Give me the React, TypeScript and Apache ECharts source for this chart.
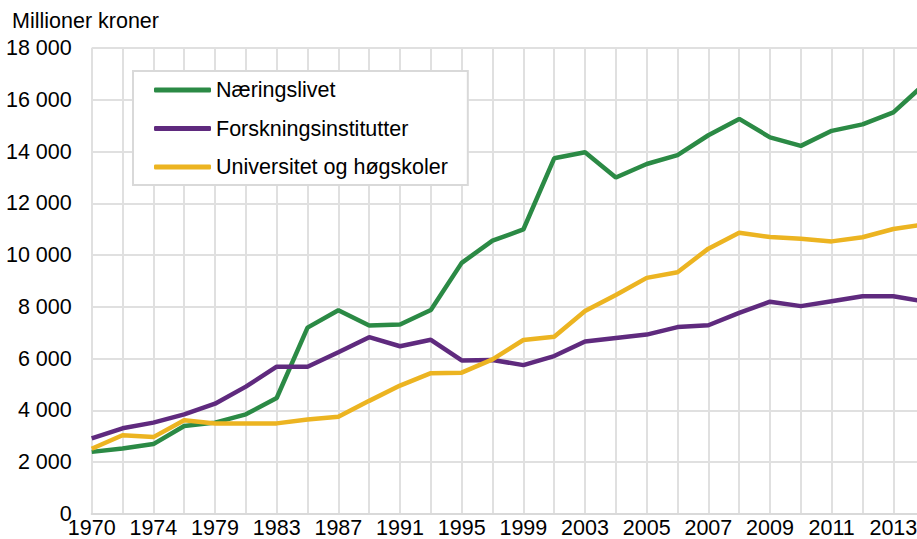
import React, { useEffect, useRef } from "react";
import * as echarts from "echarts";

const categories = [
  "1970", "1972", "1974", "1977", "1979", "1981", "1983", "1985", "1987", "1989",
  "1991", "1993", "1995", "1997", "1999", "2001", "2003", "2004", "2005", "2006",
  "2007", "2008", "2009", "2010", "2011", "2012", "2013", "2014",
];

const naeringslivet = [
  2400, 2530, 2700, 3400, 3530, 3850, 4480, 7200, 7870, 7280,
  7320, 7880, 9700, 10560, 10990, 13740, 13970, 13000, 13520, 13860,
  14630, 15260, 14550, 14220, 14800, 15050, 15510, 16600,
];

const forskningsinstitutter = [
  2920, 3310, 3530, 3850, 4260, 4920, 5690, 5690, 6250, 6830,
  6480, 6730, 5930, 5950, 5750, 6100, 6660, 6800, 6930, 7220,
  7290, 7770, 8200, 8030, 8220, 8410, 8410, 8210,
];

const universitet = [
  2520, 3040, 2970, 3620, 3500, 3500, 3500, 3650, 3760, 4370,
  4960, 5440, 5460, 5970, 6720, 6850, 7840, 8460, 9120, 9340,
  10250, 10860, 10700, 10630, 10530, 10690, 11010, 11180,
];

const seriesNames = ["Næringslivet", "Forskningsinstitutter", "Universitet og høgskoler"];
const seriesColors = ["#2b8a45", "#5f2a7e", "#ecb421"];
const yAxisTitle = "Millioner kroner";

const FONT = "'Liberation Sans', Arial, sans-serif";
const FS = 21.5;

export default function App() {
  const ref = useRef<HTMLDivElement>(null);

  useEffect(() => {
    if (!ref.current) return;
    const chart = echarts.init(ref.current, null, { renderer: "svg" });
    const dataSets = [naeringslivet, forskningsinstitutter, universitet];
    chart.setOption({
      animation: false,
      textStyle: { fontFamily: FONT },
      grid: { left: 91.7, right: 0.8, top: 48, bottom: 24, containLabel: false },
      graphic: [
        {
          type: "text",
          left: 12,
          top: 10,
          style: { text: yAxisTitle, fontSize: FS, fontFamily: FONT, fill: "#000" },
        },
      ],
      legend: {
        orient: "vertical",
        left: 133,
        top: 71,
        padding: [8, 20, 7, 21],
        itemGap: 16.5,
        itemWidth: 57,
        itemHeight: 5,
        itemTextGap: 3,
        icon: "roundRect",
        borderColor: "#d9d9d9",
        borderWidth: 2,
        backgroundColor: "#ffffff",
        textStyle: { fontSize: FS, color: "#000", fontFamily: FONT },
        data: seriesNames,
      },
      xAxis: {
        type: "category",
        data: categories,
        boundaryGap: false,
        axisLine: { show: true, lineStyle: { color: "#d9d9d9", width: 2 } },
        axisTick: { show: false },
        axisLabel: { interval: 1, fontSize: FS, color: "#000", margin: 3, fontFamily: FONT },
        splitLine: { show: true, interval: 0, lineStyle: { color: "#e0e0e0", width: 2 } },
      },
      yAxis: {
        type: "value",
        min: 0,
        max: 18000,
        interval: 2000,
        axisLine: { show: false },
        axisTick: { show: false },
        axisLabel: {
          fontSize: FS,
          color: "#000",
          margin: 20,
          fontFamily: FONT,
          formatter: (v: number) => String(v).replace(/\B(?=(\d{3})+(?!\d))/g, " "),
        },
        splitLine: { show: true, lineStyle: { color: "#e0e0e0", width: 2 } },
      },
      series: seriesNames.map((name, i) => ({
        name,
        type: "line",
        data: dataSets[i],
        symbol: "none",
        color: seriesColors[i],
        lineStyle: { width: 4.5, color: seriesColors[i] },
      })),
    });
    return () => chart.dispose();
  }, []);

  return (
    <div style={{ position: "absolute", left: 0, top: 0, width: 917, height: 539, overflow: "hidden", background: "#fff" }}>
      <div ref={ref} style={{ width: 925, height: 539 }} />
    </div>
  );
}
